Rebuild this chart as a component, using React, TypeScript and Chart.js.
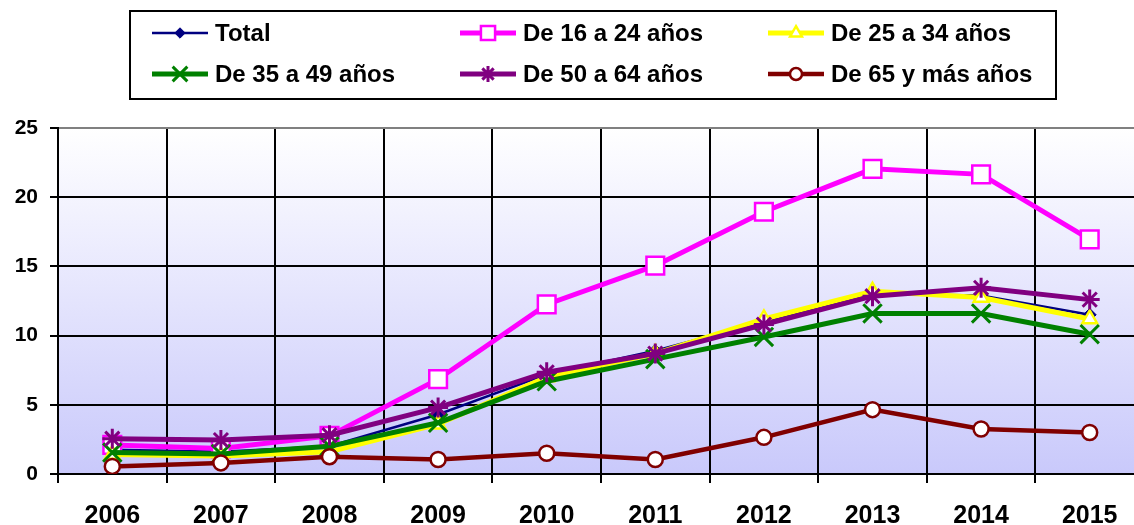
import React, { useEffect, useRef } from 'react';
import { Chart, registerables } from 'chart.js';
import { drawPoint } from 'chart.js/helpers';

Chart.register(...registerables);

const years = ['2006', '2007', '2008', '2009', '2010', '2011', '2012', '2013', '2014', '2015'];
const yTicks = [0, 5, 10, 15, 20, 25];

const seriesLabels = ['Total', 'De 16 a 24 años', 'De 25 a 34 años', 'De 35 a 49 años', 'De 50 a 64 años', 'De 65 y más años'];
const total = [1.75, 1.6, 2.0, 4.3, 7.2, 8.9, 11.0, 13.0, 12.9, 11.5];
const age16to24 = [2.1, 1.85, 2.75, 6.85, 12.25, 15.05, 18.95, 22.05, 21.65, 16.95];
const age25to34 = [1.4, 1.3, 1.6, 3.6, 7.0, 8.7, 11.2, 13.2, 12.75, 11.2];
const age35to49 = [1.55, 1.45, 2.0, 3.7, 6.7, 8.3, 9.9, 11.6, 11.6, 10.1];
const age50to64 = [2.55, 2.45, 2.8, 4.8, 7.35, 8.7, 10.8, 12.85, 13.45, 12.6];
const age65plus = [0.55, 0.8, 1.25, 1.05, 1.5, 1.05, 2.65, 4.65, 3.25, 3.0];

const styles = [
  { color: '#000080', lw: 2.5, ps: 'rectRot', r: 6.5, bg: '#000080', pbw: 1 },
  { color: '#FF00FF', lw: 5, ps: 'rect', r: 12.5, bg: '#FFFFFF', pbw: 2.5 },
  { color: '#FFFF00', lw: 5, ps: 'triangle', r: 8.5, bg: '#FFFFFF', pbw: 2.5 },
  { color: '#008000', lw: 5, ps: 'crossRot', r: 13, bg: '#008000', pbw: 3 },
  { color: '#800080', lw: 5, ps: 'star', r: 10, bg: '#800080', pbw: 3 },
  { color: '#800000', lw: 4.5, ps: 'circle', r: 7.5, bg: '#FFFFFF', pbw: 2.5 },
];

const seriesData = [total, age16to24, age25to34, age35to49, age50to64, age65plus];

const FONT = "'Liberation Sans', Arial, sans-serif";

const bgPlugin = {
  id: 'bgGradient',
  beforeDraw(chart: any) {
    const { ctx, chartArea } = chart;
    if (!chartArea) return;
    const g = ctx.createLinearGradient(0, chartArea.top, 0, chartArea.bottom);
    g.addColorStop(0, '#FFFFFF');
    g.addColorStop(1, '#C9C9FB');
    ctx.save();
    ctx.fillStyle = g;
    ctx.fillRect(chartArea.left, chartArea.top, chartArea.right - chartArea.left, chartArea.bottom - chartArea.top);
    ctx.restore();
  },
};

const legendPlugin = {
  id: 'customLegend',
  afterDraw(chart: any) {
    const ctx = chart.ctx;
    ctx.save();
    ctx.fillStyle = '#FFFFFF';
    ctx.fillRect(130, 11, 926, 88);
    ctx.strokeStyle = '#000000';
    ctx.lineWidth = 2;
    ctx.strokeRect(130, 11, 926, 88);
    const cols = [152, 460, 768];
    const rows = [33, 74];
    seriesLabels.forEach((label, i) => {
      const s = styles[i];
      const x0 = cols[i % 3];
      const y = rows[Math.floor(i / 3)];
      ctx.strokeStyle = s.color;
      ctx.lineWidth = s.lw;
      ctx.beginPath();
      ctx.moveTo(x0, y);
      ctx.lineTo(x0 + 56, y);
      ctx.stroke();
      ctx.fillStyle = s.bg;
      ctx.strokeStyle = s.color;
      ctx.lineWidth = s.pbw;
      drawPoint(ctx, { pointStyle: s.ps, rotation: 0, radius: s.r * 0.8, borderWidth: s.pbw } as any, x0 + 28, y);
      ctx.fillStyle = '#000000';
      ctx.font = `bold 24px ${FONT}`;
      ctx.textBaseline = 'middle';
      ctx.textAlign = 'left';
      ctx.fillText(label, x0 + 63, y + 1);
    });
    ctx.restore();
  },
};

export default function App() {
  const ref = useRef<HTMLCanvasElement | null>(null);
  useEffect(() => {
    if (!ref.current) return;
    const chart = new Chart(ref.current, {
      type: 'line',
      data: {
        labels: years,
        datasets: seriesData.map((d, i) => ({
          label: seriesLabels[i],
          data: d,
          borderColor: styles[i].color,
          borderWidth: styles[i].lw,
          backgroundColor: styles[i].bg,
          pointStyle: styles[i].ps as any,
          pointRadius: styles[i].r,
          pointBorderWidth: styles[i].pbw,
          pointBorderColor: styles[i].color,
          pointBackgroundColor: styles[i].bg,
          tension: 0,
          fill: false,
          order: 5 - i,
        })),
      },
      options: {
        responsive: false,
        animation: false,
        events: [],
        layout: { padding: { top: 128, left: 0, right: 0, bottom: 0 } },
        plugins: { legend: { display: false }, tooltip: { enabled: false } },
        scales: {
          x: {
            type: 'category',
            offset: true,
            afterFit: (s: any) => { s.height = 51; },
            grid: {
              offset: true,
              color: '#000000',
              lineWidth: 2,
              tickLength: 9,
              drawOnChartArea: true,
            },
            border: { color: '#000000', width: 2 },
            ticks: {
              color: '#000000',
              font: { family: FONT, size: 25, weight: 'bold' },
              padding: 18,
              maxRotation: 0,
              autoSkip: false,
            },
          },
          y: {
            min: 0,
            max: 25,
            afterFit: (s: any) => { s.width = 58; },
            afterBuildTicks: (s: any) => { s.ticks = yTicks.map((v) => ({ value: v })); },
            grid: {
              color: (c: any) => (c.tick && c.tick.value === 25 ? '#808080' : '#000000'),
              tickColor: '#000000',
              lineWidth: 2,
              tickLength: 8,
            },
            border: { color: '#000000', width: 2 },
            ticks: {
              color: '#000000',
              font: { family: FONT, size: 21, weight: 'bold' },
              padding: 12,
            },
          },
        },
      },
      plugins: [bgPlugin, legendPlugin],
    });
    return () => chart.destroy();
  }, []);
  return (
    <div style={{ position: 'fixed', left: 0, top: 0, width: 1134, height: 525, overflow: 'hidden', background: '#FFFFFF' }}>
      <canvas ref={ref} width={1160} height={525} style={{ width: 1160, height: 525, display: 'block' }} />
    </div>
  );
}
